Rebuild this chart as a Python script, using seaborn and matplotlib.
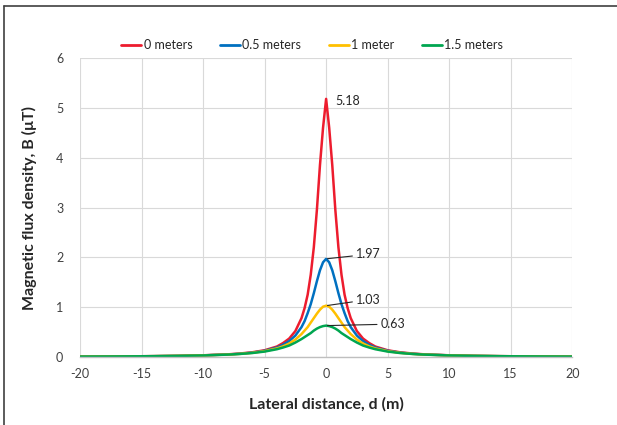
import pandas as pd
import matplotlib.pyplot as plt
import seaborn as sns
from matplotlib.lines import Line2D

# === Data ===
d = [-20, -18, -16, -14, -12, -10, -8, -7, -6, -5, -4, -3.5, -3, -2.5, -2, -1.75, -1.5, -1.25, -1, -0.75, -0.5, -0.25,
     0, 0.25, 0.5, 0.75, 1, 1.25, 1.5, 1.75, 2, 2.5, 3, 3.5, 4, 5, 6, 7, 8, 10, 12, 14, 16, 18, 20]

b_0m = [0.008, 0.010, 0.013, 0.017, 0.023, 0.034, 0.053, 0.07, 0.095, 0.135, 0.21, 0.28, 0.37, 0.52, 0.78, 0.98, 1.25, 1.65, 2.2, 2.95, 3.85, 4.6,
        5.18, 4.6, 3.85, 2.95, 2.2, 1.65, 1.25, 0.98, 0.78, 0.52, 0.37, 0.28, 0.21, 0.135, 0.095, 0.07, 0.053, 0.034, 0.023, 0.017, 0.013, 0.010, 0.008]
b_05m = [0.008, 0.010, 0.013, 0.017, 0.023, 0.033, 0.050, 0.065, 0.088, 0.125, 0.19, 0.245, 0.32, 0.43, 0.60, 0.72, 0.88, 1.06, 1.28, 1.52, 1.74, 1.90,
         1.97, 1.90, 1.74, 1.52, 1.28, 1.06, 0.88, 0.72, 0.60, 0.43, 0.32, 0.245, 0.19, 0.125, 0.088, 0.065, 0.050, 0.033, 0.023, 0.017, 0.013, 0.010, 0.008]
b_1m = [0.008, 0.010, 0.013, 0.017, 0.023, 0.032, 0.049, 0.063, 0.084, 0.117, 0.172, 0.214, 0.27, 0.35, 0.46, 0.53, 0.60, 0.69, 0.78, 0.87, 0.95, 1.01,
        1.03, 1.01, 0.95, 0.87, 0.78, 0.69, 0.60, 0.53, 0.46, 0.35, 0.27, 0.214, 0.172, 0.117, 0.084, 0.063, 0.049, 0.032, 0.023, 0.017, 0.013, 0.010, 0.008]
b_15m = [0.008, 0.010, 0.013, 0.016, 0.022, 0.031, 0.048, 0.061, 0.080, 0.109, 0.156, 0.19, 0.23, 0.29, 0.36, 0.40, 0.44, 0.48, 0.53, 0.57, 0.60, 0.62,
         0.63, 0.62, 0.60, 0.57, 0.53, 0.48, 0.44, 0.40, 0.36, 0.29, 0.23, 0.19, 0.156, 0.109, 0.080, 0.061, 0.048, 0.031, 0.022, 0.016, 0.013, 0.010, 0.008]

series_names = ["0 meters", "0.5 meters", "1 meter", "1.5 meters"]
series_values = [b_0m, b_05m, b_1m, b_15m]
colors = ["#ED1C2E", "#0070C0", "#FFC000", "#00A650"]
peak_labels = ["5.18", "1.97", "1.03", "0.63"]

df = pd.concat(
    [pd.DataFrame({"d": d, "B": vals, "height": name}) for name, vals in zip(series_names, series_values)],
    ignore_index=True,
)

# === Plot ===
sns.set_theme(style="white")
plt.rcParams["font.family"] = ["Lato", "DejaVu Sans"]
plt.rcParams["axes.unicode_minus"] = False

fig = plt.figure(figsize=(6.17, 4.25), dpi=100)
ax = fig.add_axes([0.1297, 0.16, 0.7977, 0.7035])

sns.lineplot(data=df, x="d", y="B", hue="height", palette=dict(zip(series_names, colors)),
             sort=False, linewidth=1.8, legend=False, ax=ax)

ax.set_xlim(-20, 20)
ax.set_ylim(0, 6)
ax.set_xticks(range(-20, 21, 5))
ax.set_yticks(range(0, 7))
ax.grid(True, color="#d9d9d9", linewidth=0.8)
ax.set_axisbelow(True)
for side in ["left", "right", "top"]:
    ax.spines[side].set_visible(False)
ax.spines["bottom"].set_color("#bfbfbf")
ax.spines["bottom"].set_linewidth(1.0)
ax.tick_params(axis="both", length=0, labelsize=9, colors="#404040", pad=8)
ax.tick_params(axis="y", pad=12)

ax.set_xlabel("Lateral distance, d (m)", fontsize=11.5, fontweight="bold", color="#262626", labelpad=12)
ax.set_ylabel("Magnetic flux density, B (\u03bcT)", fontsize=11.5, fontweight="bold", color="#262626", labelpad=14)

# peak labels with leader lines
ax.text(0.75, 5.14, peak_labels[0], fontsize=9, color="#262626", va="center", ha="left")
leader = dict(arrowstyle="-", color="#262626", linewidth=0.8, shrinkA=0, shrinkB=1)
ax.annotate(peak_labels[1], xy=(0, 1.97), xytext=(2.4, 2.06), fontsize=9, color="#262626",
            va="center", ha="left", arrowprops=leader)
ax.annotate(peak_labels[2], xy=(0, 1.03), xytext=(2.4, 1.15), fontsize=9, color="#262626",
            va="center", ha="left", arrowprops=leader)
ax.annotate(peak_labels[3], xy=(0, 0.63), xytext=(4.4, 0.66), fontsize=9, color="#262626",
            va="center", ha="left", arrowprops=leader)

handles = [Line2D([0], [0], color=c, linewidth=2) for c in colors]
fig.legend(handles, series_names, loc="center", bbox_to_anchor=(0.506, 0.893), ncol=4, frameon=False,
           fontsize=9, handlelength=1.6, handletextpad=0.2, columnspacing=2.2)

# chart border (left and top visible in the original crop)
fig.add_artist(Line2D([4 / 617, 4 / 617], [0, 1 - 6 / 425], transform=fig.transFigure, color="#404040", linewidth=1.2))
fig.add_artist(Line2D([4 / 617, 1], [1 - 6 / 425, 1 - 6 / 425], transform=fig.transFigure, color="#404040", linewidth=1.2))

fig.savefig("out.png", dpi=100)
